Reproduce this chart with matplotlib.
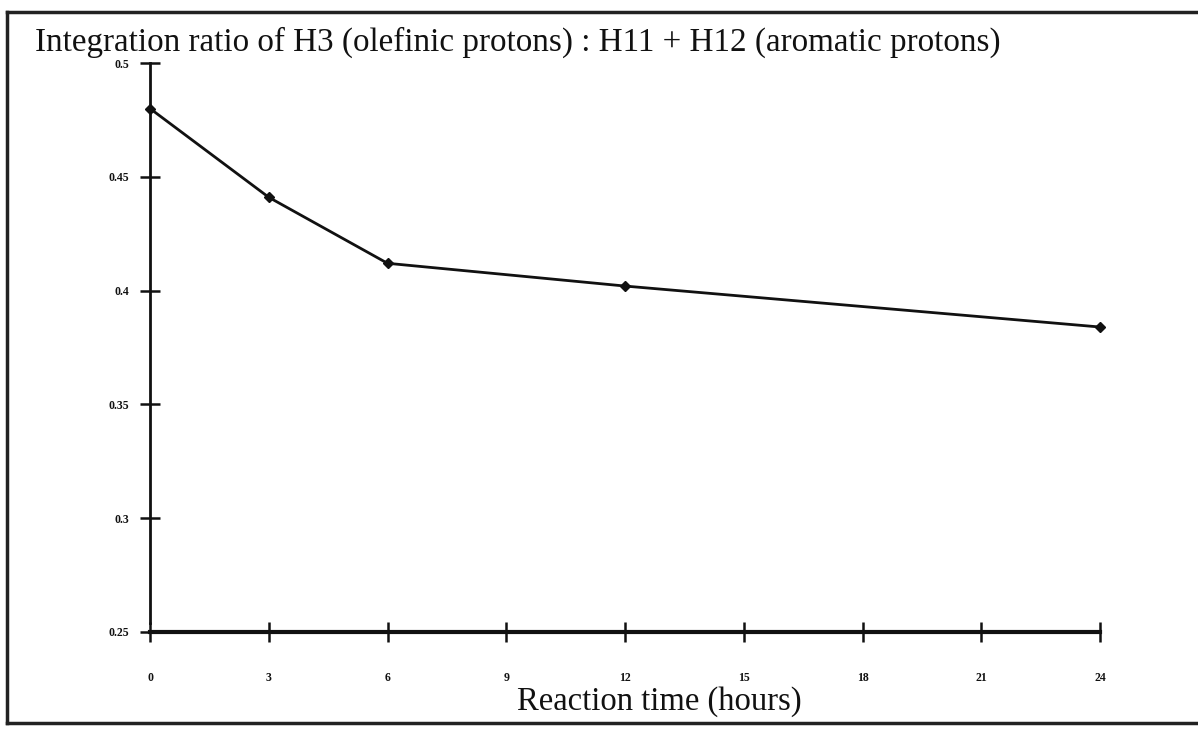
import matplotlib
matplotlib.use("Agg")
import matplotlib.pyplot as plt
from matplotlib.lines import Line2D

# Reaction time (hours) and measured integration ratio
hours = [0, 3, 6, 12, 24]
ratio = [0.480, 0.441, 0.412, 0.402, 0.384]

x_ticks = [0, 3, 6, 9, 12, 15, 18, 21, 24]
y_ticks = [0.25, 0.30, 0.35, 0.40, 0.45, 0.50]
y_tick_labels = ["0.25", "0.3", "0.35", "0.4", "0.45", "0.5"]

title = "Integration ratio of H3 (olefinic protons) : H11 + H12 (aromatic protons)"
xlabel = "Reaction time (hours)"

W, H = 1198, 729
fig = plt.figure(figsize=(W / 100, H / 100), dpi=100)
fig.patch.set_facecolor("white")

serif = ["Liberation Serif", "DejaVu Serif"]

ax = fig.add_axes([150 / W, 1 - 632 / H, 950 / W, (632 - 63) / H])
ax.plot(hours, ratio, color="#111111", lw=2.0, marker="D", ms=5,
        mfc="#111111", mec="#111111", clip_on=False)

ax.set_xlim(0, 24)
ax.set_ylim(0.25, 0.5)
ax.set_xticks(x_ticks)
ax.set_xticklabels([str(t) for t in x_ticks])
ax.set_yticks(y_ticks)
ax.set_yticklabels(y_tick_labels)

for side in ("top", "right"):
    ax.spines[side].set_visible(False)
ax.spines["left"].set_linewidth(2.0)
ax.spines["bottom"].set_linewidth(3.0)
ax.spines["left"].set_bounds(0.254, 0.5)
for side in ("left", "bottom"):
    ax.spines[side].set_color("#111111")

ax.tick_params(axis="both", direction="inout", length=14, width=1.8,
               color="#111111", labelsize=8.5)
ax.tick_params(axis="x", pad=22)
ax.tick_params(axis="y", pad=8)
for lab in ax.get_xticklabels() + ax.get_yticklabels():
    lab.set_fontfamily(serif)
    lab.set_fontweight("bold")
    lab.set_color("#111111")

fig.text(35 / W, 1 - 51 / H, title, family=serif, fontsize=23.9,
         color="#111111", ha="left", va="baseline")
fig.text(659 / W, 1 - 710 / H, xlabel, family=serif, fontsize=23.5,
         color="#111111", ha="center", va="baseline")

# page frame
frame_kw = dict(color="#222222", lw=2.5, transform=fig.transFigure)
fig.add_artist(Line2D([7 / W, 7 / W], [1 - 12 / H, 1 - 723 / H], **frame_kw))
fig.add_artist(Line2D([7 / W, 1.0], [1 - 12 / H, 1 - 12 / H], **frame_kw))
fig.add_artist(Line2D([7 / W, 1.0], [1 - 723 / H, 1 - 723 / H], **frame_kw))

fig.savefig("out.png", dpi=100, facecolor="white")
